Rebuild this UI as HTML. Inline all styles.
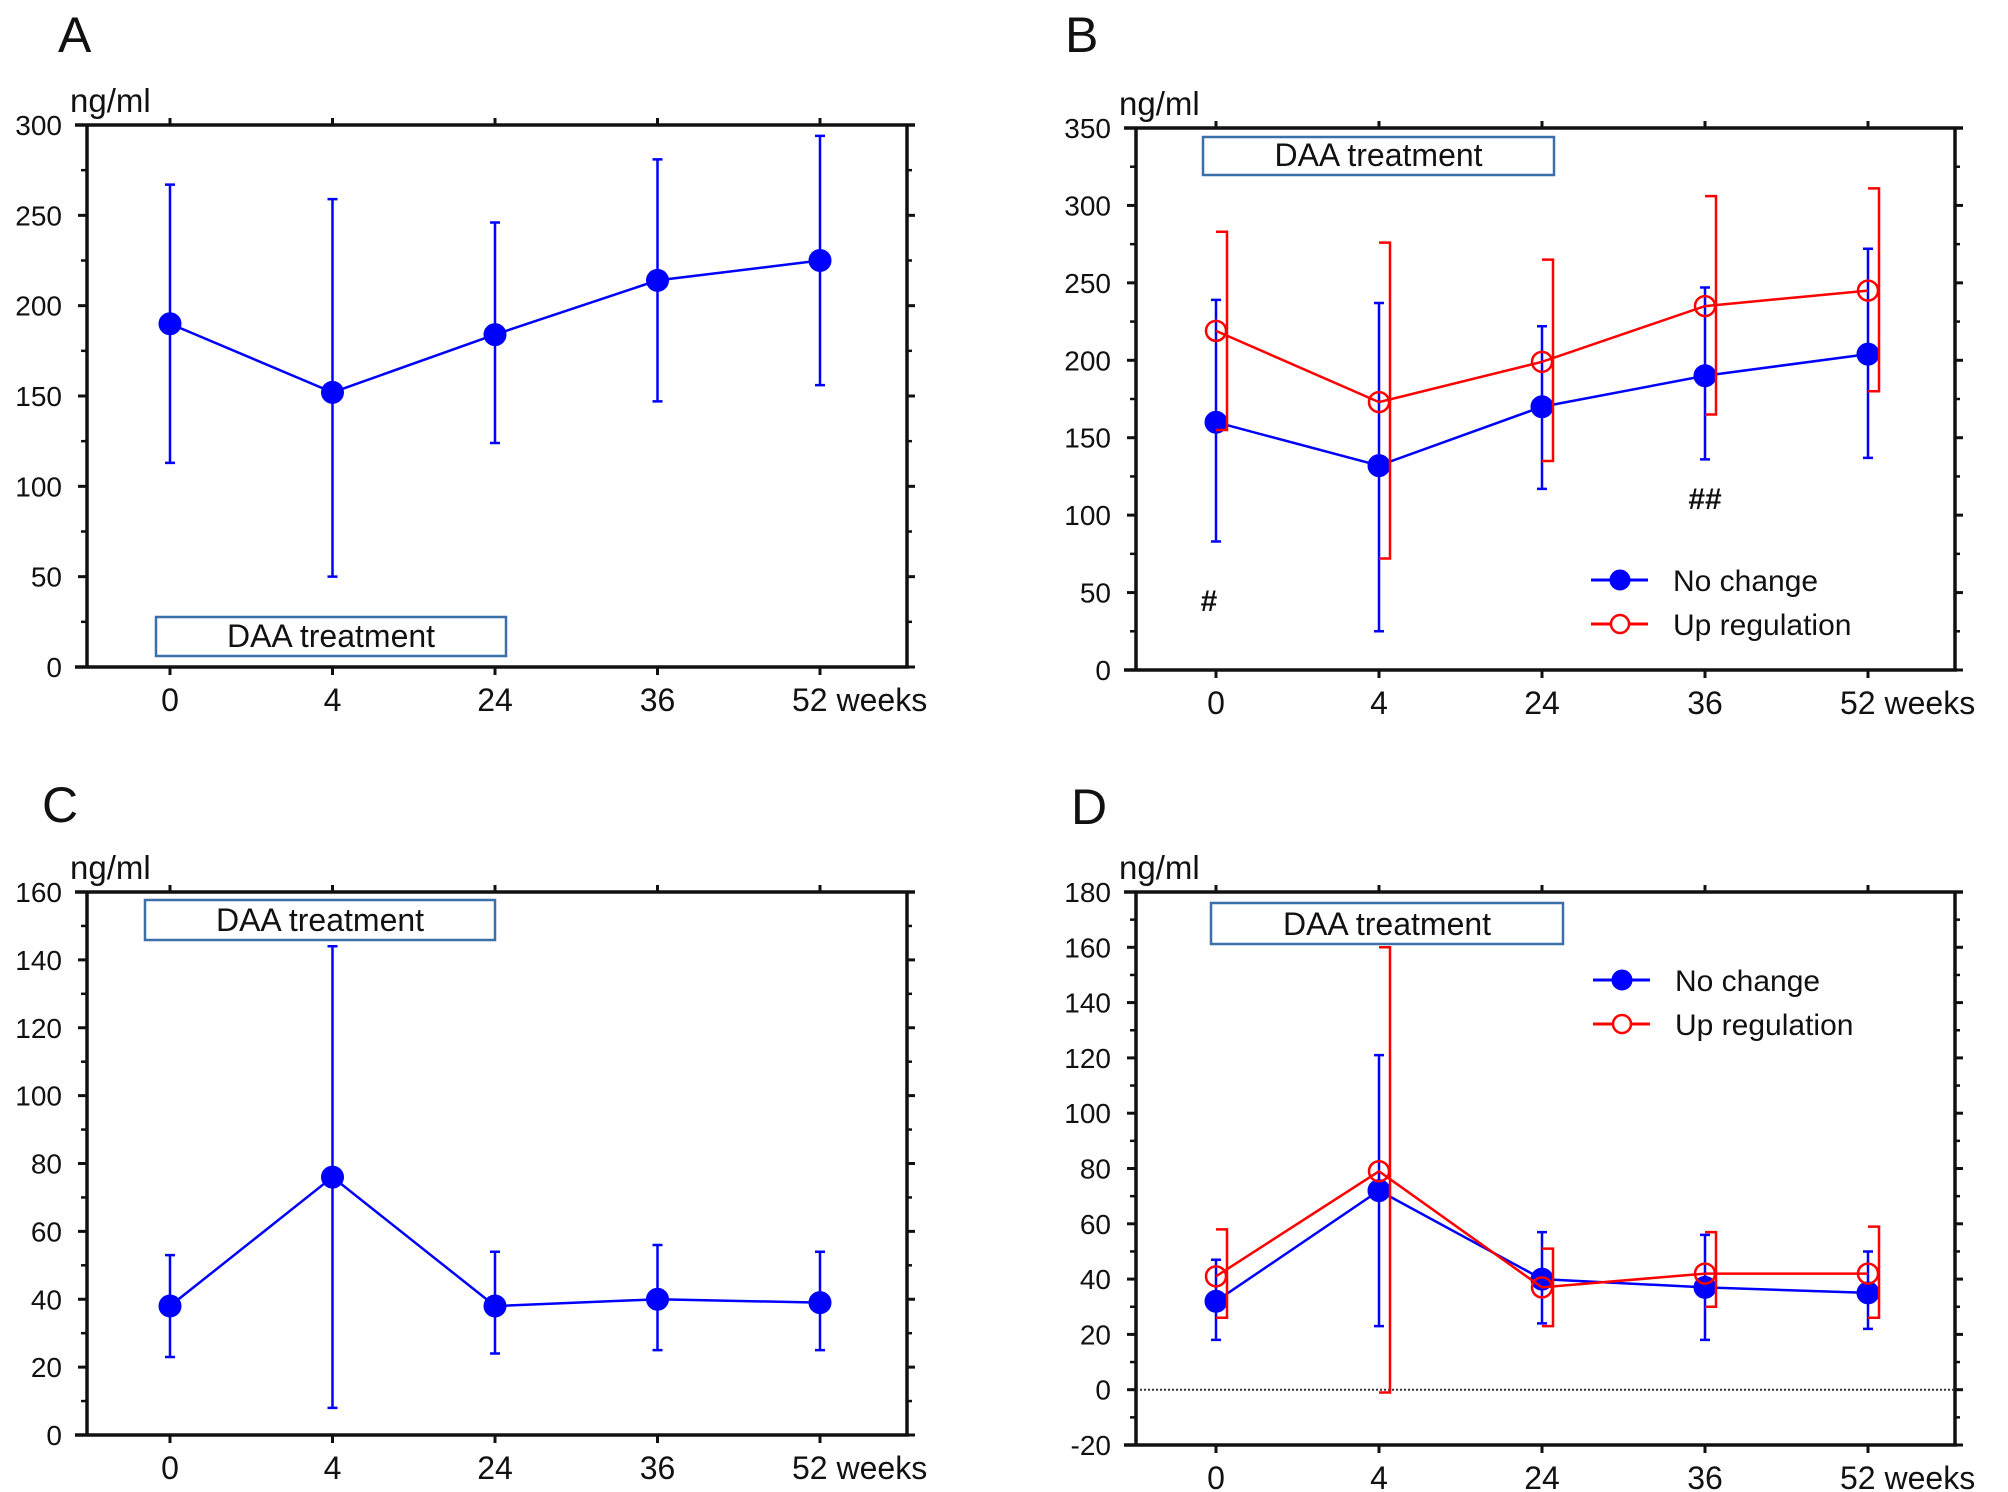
<!DOCTYPE html>
<html><head><meta charset="utf-8"><style>
html,body{margin:0;padding:0;background:#fff;}
svg{display:block;font-family:"Liberation Sans",sans-serif;}
</style></head>
<body>
<svg id="fig" width="2008" height="1492" viewBox="0 0 2008 1492" xmlns="http://www.w3.org/2000/svg"></svg>
<script>
// shared x categories
const categories = ["0","4","24","36","52"];
// Panel A
const aMean = [190,152,184,214,225];
const aUpper = [267,259,246,281,294];
const aLower = [113,50,124,147,156];
const aTicks = [0,50,100,150,200,250,300];
// Panel B
const bBlueMean = [160,132,170,190,204];
const bBlueUpper = [239,237,222,247,272];
const bBlueLower = [83,25,117,136,137];
const bRedMean = [219,173,199,235,245];
const bRedUpper = [283,276,265,306,311];
const bRedLower = [155,72,135,165,180];
const bTicks = [0,50,100,150,200,250,300,350];
// Panel C
const cMean = [38,76,38,40,39];
const cUpper = [53,144,54,56,54];
const cLower = [23,8,24,25,25];
const cTicks = [0,20,40,60,80,100,120,140,160];
// Panel D
const dBlueMean = [32,72,40,37,35];
const dBlueUpper = [47,121,57,56,50];
const dBlueLower = [18,23,24,18,22];
const dRedMean = [41,79,37,42,42];
const dRedUpper = [58,160,51,57,59];
const dRedLower = [26,-1,23,30,26];
const dTicks = [-20,0,20,40,60,80,100,120,140,160,180];

const NS = "http://www.w3.org/2000/svg";
const svg = document.getElementById("fig");
function mk(tag, attrs, parent, text){
  const e = document.createElementNS(NS, tag);
  for (const k in attrs) e.setAttribute(k, attrs[k]);
  if (text !== undefined) e.textContent = text;
  (parent||svg).appendChild(e);
  return e;
}

function panel(p){
  const g = mk("g", {});
  
  
  const ymin = p.ticks[0], ymax = p.ticks[p.ticks.length-1];
  const Y = v => p.y0 + (v - ymin) / (ymax - ymin) * (p.y1 - p.y0);
  const X = i => p.xs[0] + i * (p.xs[1] - p.xs[0]) / (categories.length - 1);
  // panel letter
  const lt = mk("text", {x:p.letter[0], y:p.letter[1], "font-size":50, fill:"#111"}, g, p.id);
  
  
  const un = mk("text", {x:p.L-17, y:p.y1-13, "font-size":33, fill:"#111"}, g, "ng/ml");
  
  
  // frame
  const ax = {stroke:"#111","stroke-width":3.5};
  mk("line", Object.assign({x1:p.L-12,y1:p.y0,x2:p.R+2,y2:p.y0},ax), g);
  mk("line", Object.assign({x1:p.L-12,y1:p.y1,x2:p.R+8,y2:p.y1},ax), g);
  mk("line", Object.assign({x1:p.L,y1:p.y0,x2:p.L,y2:p.y1},ax), g);
  mk("line", Object.assign({x1:p.R,y1:p.y0,x2:p.R,y2:p.y1},ax), g);
  // y ticks
  const step = p.ticks[1]-p.ticks[0];
  p.ticks.forEach((t,i)=>{
    const y = Y(t);
    mk("line",{x1:p.L-9,y1:y,x2:p.L,y2:y,stroke:"#111","stroke-width":3},g);
    mk("line",{x1:p.R,y1:y,x2:p.R+8,y2:y,stroke:"#111","stroke-width":3},g);
    if (i < p.ticks.length-1){
      const ym = Y(t+step/2);
      mk("line",{x1:p.L-6,y1:ym,x2:p.L,y2:ym,stroke:"#111","stroke-width":2.5},g);
      mk("line",{x1:p.R,y1:ym,x2:p.R+5,y2:ym,stroke:"#111","stroke-width":2.5},g);
    }
    const tl = mk("text",{x:p.L-25,y:y+10,"font-size":28,"text-anchor":"end",fill:"#111"},g,String(t));
    
    
  });
  // x ticks
  categories.forEach((c,i)=>{
    const x = X(i);
    mk("line",{x1:x,y1:p.y0,x2:x,y2:p.y0+8,stroke:"#111","stroke-width":3},g);
    mk("line",{x1:x,y1:p.y1,x2:x,y2:p.y1-7,stroke:"#111","stroke-width":3},g);
    const last = i === categories.length-1;
    const xl = mk("text",{x:last? x-28 : x, y:p.y0+44,"font-size":32,"text-anchor":last?"start":"middle",fill:"#111"},g,last? c+" weeks" : c);
    
    
  });
  // zero line
  if (ymin < 0){
    const zl = mk("line",{x1:p.L,y1:Y(0),x2:p.R,y2:Y(0),stroke:"#333","stroke-width":2,"stroke-dasharray":"2,2"},g);
    
    
  }
  // DAA box
  const bx = mk("rect",{x:p.box[0],y:p.box[1],width:p.box[2]-p.box[0],height:p.box[3]-p.box[1],fill:"#fff",stroke:"#3a6fa8","stroke-width":2.5},g);
  
  
  mk("text",{x:(p.box[0]+p.box[2])/2,y:p.box[3]-9,"font-size":32,"text-anchor":"middle",fill:"#111"},g,"DAA treatment");
  // series
  p.series.forEach(s=>{
    const sg = mk("g",{},g);
    
    
    // error bars
    s.mean.forEach((m,i)=>{
      const x = X(i);
      if (s.red){
        const xv = x+11;
        const e = mk("path",{d:`M${x},${Y(s.up[i])} H${xv} V${Y(s.lo[i])} H${x}`,fill:"none",stroke:s.color,"stroke-width":2.5},sg);
        
        
      } else {
        const e = mk("path",{d:`M${x},${Y(s.up[i])} V${Y(s.lo[i])} M${x-5},${Y(s.up[i])} H${x+5} M${x-5},${Y(s.lo[i])} H${x+5}`,fill:"none",stroke:s.color,"stroke-width":2.5},sg);
        
        
      }
    });
    const pts = s.mean.map((m,i)=>X(i)+","+Y(m)).join(" ");
    const ln = mk("polyline",{points:pts,fill:"none",stroke:s.color,"stroke-width":2.5},sg);
    
    
    s.mean.forEach((m,i)=>{
      const c = mk("circle",{cx:X(i),cy:Y(m),r:s.red?10:11,fill:s.red?"none":s.color,stroke:s.color,"stroke-width":s.red?2.5:1},sg);
      
      
    });
  });
  // legend
  if (p.legend){
    const lg = mk("g",{},g);
    
    
    const [lx, ly1, ly2] = p.legend;
    [[ly1,"#0000ff",false,"No change"],[ly2,"#ff0000",true,"Up regulation"]].forEach(([y,col,open,txt])=>{
      const eg = mk("g",{},lg);
      
      
      mk("line",{x1:lx,y1:y,x2:lx+57,y2:y,stroke:col,"stroke-width":3},eg);
      mk("circle",{cx:lx+29,cy:y,r:open?9:10,fill:open?"#fff":col,stroke:col,"stroke-width":open?2.5:1},eg);
      mk("text",{x:lx+82,y:y+11,"font-size":30,fill:"#111"},eg,txt);
    });
  }
  (p.notes||[]).forEach(n=>{
    const t = mk("text",{x:n[0],y:n[1],"font-size":30,"text-anchor":"middle",fill:"#111","font-weight":"bold"},g,n[2]);
    
    
  });
}

panel({id:"A", L:87, R:907, y0:667, y1:125, xs:[170,820], ticks:aTicks, letter:[58,52],
  box:[156,617,506,656],
  series:[{name:"mean",color:"#0000ff",mean:aMean,up:aUpper,lo:aLower}]});
panel({id:"B", L:1136, R:1955, y0:670, y1:128, xs:[1216,1868], ticks:bTicks, letter:[1065,52],
  box:[1203,137,1554,175], legend:[1591,580,624],
  notes:[[1209,611,"#"],[1705,509,"##"]],
  series:[{name:"no-change",color:"#0000ff",mean:bBlueMean,up:bBlueUpper,lo:bBlueLower},
          {name:"up-regulation",color:"#ff0000",red:true,mean:bRedMean,up:bRedUpper,lo:bRedLower}]});
panel({id:"C", L:87, R:907, y0:1435, y1:892, xs:[170,820], ticks:cTicks, letter:[42,822],
  box:[145,900,495,940],
  series:[{name:"mean",color:"#0000ff",mean:cMean,up:cUpper,lo:cLower}]});
panel({id:"D", L:1136, R:1955, y0:1445, y1:892, xs:[1216,1868], ticks:dTicks, letter:[1071,824],
  box:[1211,903,1563,944], legend:[1593,980,1024],
  series:[{name:"no-change",color:"#0000ff",mean:dBlueMean,up:dBlueUpper,lo:dBlueLower},
          {name:"up-regulation",color:"#ff0000",red:true,mean:dRedMean,up:dRedUpper,lo:dRedLower}]});
</script>
</body></html>
